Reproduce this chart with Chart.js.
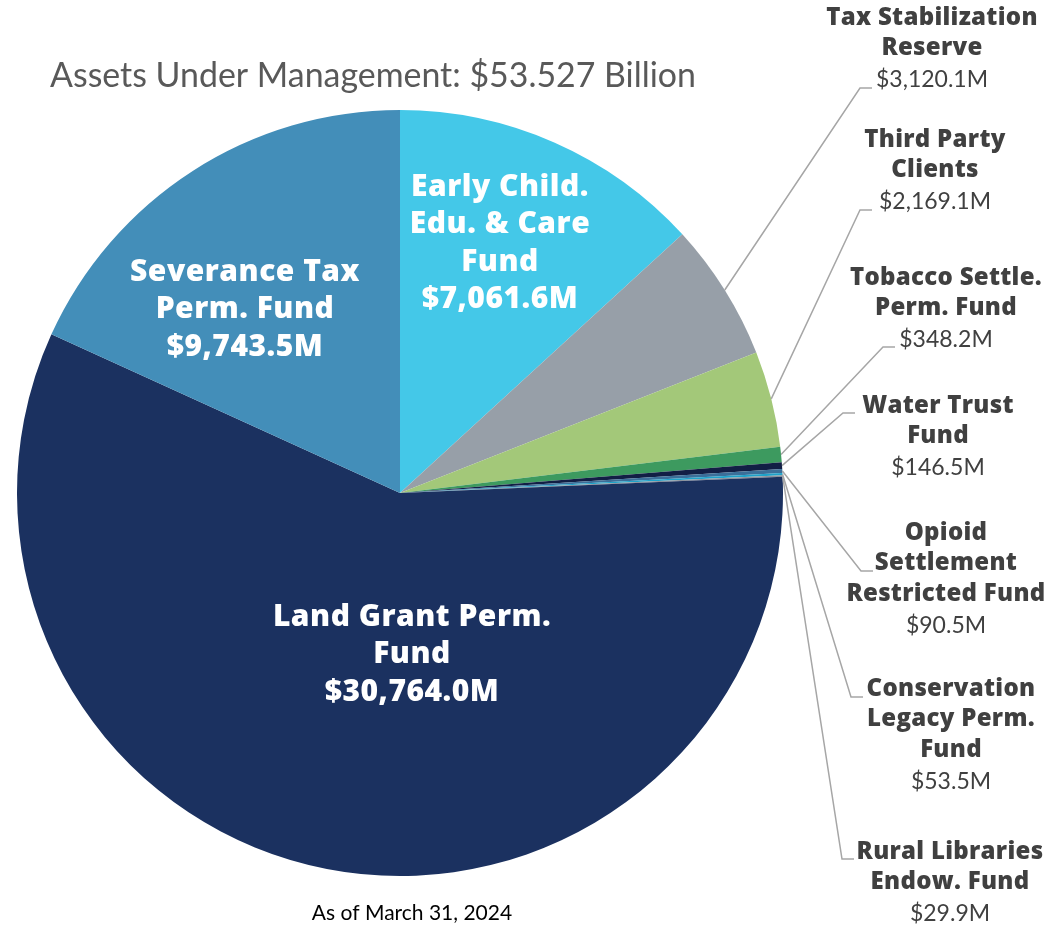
<!DOCTYPE html>
<html>
<head>
<meta charset="utf-8">
<script src="https://cdn.jsdelivr.net/npm/chart.js@4.4.1/dist/chart.umd.min.js"></script>
<style>
  html, body { margin: 0; padding: 0; background: #fff; }
  #wrap { width: 1064px; height: 925px; position: relative; }
</style>
</head>
<body>
<div id="wrap"><canvas id="aumChart"></canvas></div>
<script>
// --- data (millions of dollars), clockwise from 12 o'clock ---
const categories = [
  'Early Child. Edu. & Care Fund', 'Tax Stabilization Reserve', 'Third Party Clients',
  'Tobacco Settle. Perm. Fund', 'Water Trust Fund', 'Opioid Settlement Restricted Fund',
  'Conservation Legacy Perm. Fund', 'Rural Libraries Endow. Fund',
  'Land Grant Perm. Fund', 'Severance Tax Perm. Fund'
];
const values = [7061.6, 3120.1, 2169.1, 348.2, 146.5, 90.5, 53.5, 29.9, 30764.0, 9743.5];
const nameLines = [
  ['Early Child.', 'Edu. & Care', 'Fund'],
  ['Tax Stabilization', 'Reserve'],
  ['Third Party', 'Clients'],
  ['Tobacco Settle.', 'Perm. Fund'],
  ['Water Trust', 'Fund'],
  ['Opioid', 'Settlement', 'Restricted Fund'],
  ['Conservation', 'Legacy Perm.', 'Fund'],
  ['Rural Libraries', 'Endow. Fund'],
  ['Land Grant Perm.', 'Fund'],
  ['Severance Tax', 'Perm. Fund']
];
const titleText = 'Assets Under Management: $53.527 Billion';
const footText = 'As of March 31, 2024';

const colors = ['#44c8e8', '#979fa8', '#a3c879', '#3d9a5f', '#121f45',
                '#3b6f99', '#1ea2c9', '#8c939c', '#1b3160', '#438eb9'];

// label placement (layout only)
const inside = { 0: [500, 187], 8: [412, 617], 9: [245, 272] };
const outside = {
  1: { x: 932, y: 18, ex: 860, ey: 88 },
  2: { x: 935, y: 140, ex: 860, ey: 210 },
  3: { x: 946, y: 278, ex: 883, ey: 347 },
  4: { x: 938, y: 406, ex: 843, ey: 413 },
  5: { x: 946, y: 533, ex: 861, ey: 571 },
  6: { x: 951, y: 689, ex: 851, ey: 697 },
  7: { x: 950, y: 852, ex: 842, ey: 859 }
};

const money = v => '$' + v.toLocaleString('en-US', { minimumFractionDigits: 1, maximumFractionDigits: 1 }) + 'M';
const FONT = 'Lato, "Open Sans", sans-serif';
const BOLD = '"Open Sans", Lato, sans-serif';

const labelPlugin = {
  id: 'aumLabels',
  afterDraw(chart) {
    const ctx = chart.ctx;
    const meta = chart.getDatasetMeta(0);
    ctx.save();
    ctx.textAlign = 'center';
    ctx.textBaseline = 'middle';

    // title + footnote
    ctx.fillStyle = '#595959';
    ctx.font = '34px ' + FONT;
    ctx.textAlign = 'left';
    ctx.fillText(titleText, 50, 76, 646);
    ctx.textAlign = 'center';
    ctx.fillStyle = '#000';
    ctx.font = '21px ' + FONT;
    ctx.fillText(footText, 412, 913);

    // labels inside the big slices
    ctx.fillStyle = '#fff';
    ctx.font = '800 30px ' + BOLD;
    ctx.letterSpacing = '0.5px';
    Object.keys(inside).forEach(k => {
      const i = +k;
      const [x, y] = inside[i];
      const lines = nameLines[i].concat(money(values[i]));
      lines.forEach((t, j) => ctx.fillText(t, x, y + j * 37.5));
    });

    // leader lines and outside labels
    Object.keys(outside).forEach(k => {
      const i = +k;
      const o = outside[i];
      const arc = meta.data[i];
      const p = arc.getProps(['x', 'y', 'startAngle', 'endAngle', 'outerRadius'], true);
      const mid = (p.startAngle + p.endAngle) / 2;
      const sx = p.x + Math.cos(mid) * p.outerRadius;
      const sy = p.y + Math.sin(mid) * p.outerRadius;
      ctx.strokeStyle = '#a6a6a6';
      ctx.lineWidth = 1.5;
      ctx.beginPath();
      ctx.moveTo(sx, sy);
      ctx.lineTo(o.ex, o.ey);
      ctx.lineTo(o.ex + 12, o.ey);
      ctx.stroke();

      ctx.fillStyle = '#404040';
      ctx.font = '800 24px ' + BOLD;
      ctx.letterSpacing = '0.3px';
      nameLines[i].forEach((t, j) => ctx.fillText(t, o.x, o.y + j * 30.5));
      ctx.font = '23px ' + FONT;
      ctx.letterSpacing = '0px';
      ctx.fillText(money(values[i]), o.x, o.y + nameLines[i].length * 30.5 + 1);
    });
    ctx.restore();
  }
};

new Chart(document.getElementById('aumChart'), {
  type: 'pie',
  data: {
    labels: categories,
    datasets: [{
      data: values,
      backgroundColor: colors,
      borderWidth: 0
    }]
  },
  options: {
    responsive: true,
    maintainAspectRatio: false,
    animation: false,
    layout: { padding: { left: 17, right: 281, top: 110, bottom: 49 } },
    plugins: {
      legend: { display: false },
      tooltip: { enabled: false },
      title: { display: false }
    }
  },
  plugins: [labelPlugin]
});
</script>
</body>
</html>
